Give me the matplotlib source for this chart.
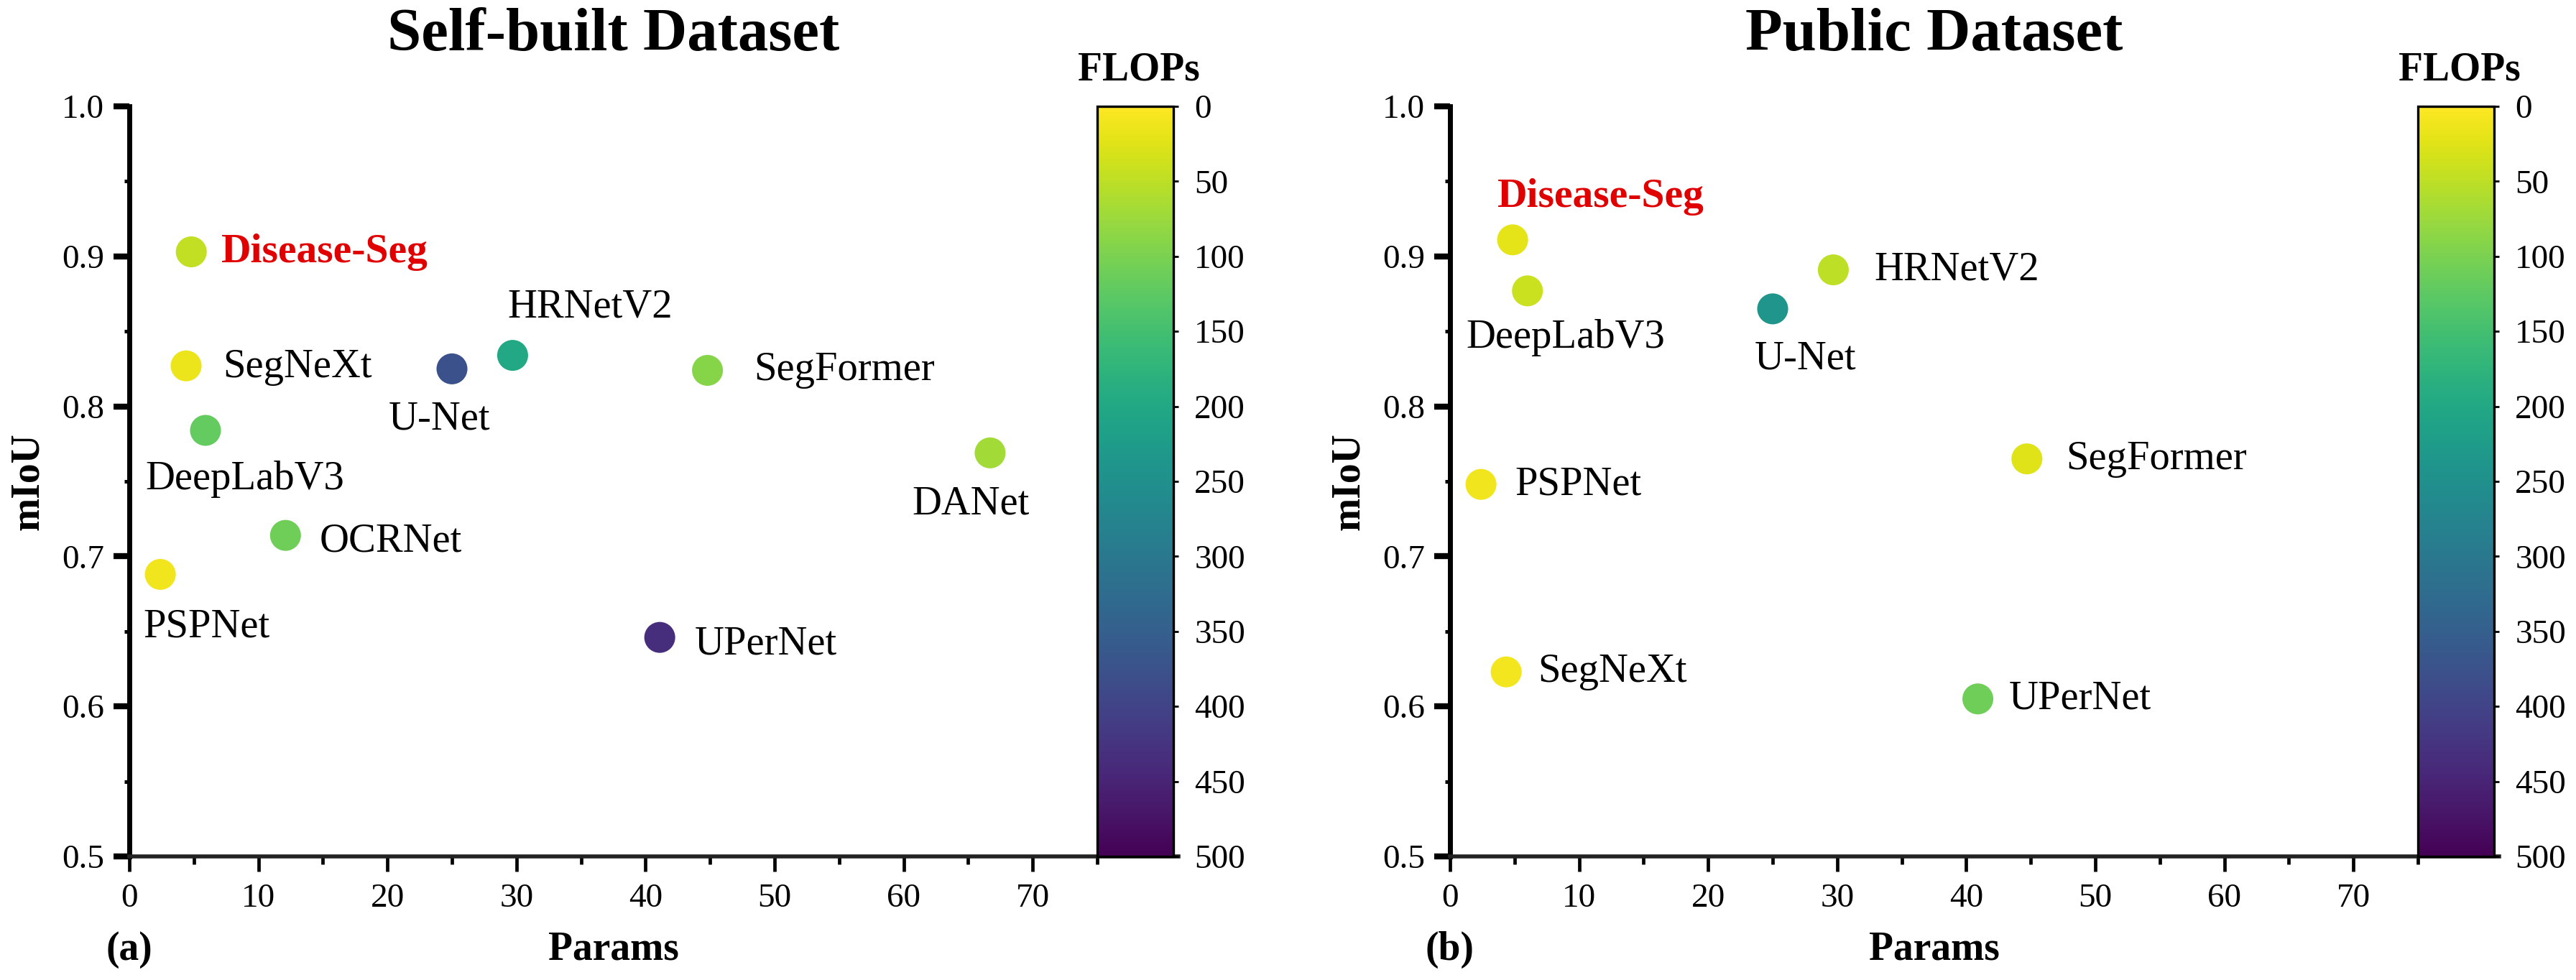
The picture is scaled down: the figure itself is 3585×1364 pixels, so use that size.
import matplotlib
matplotlib.use('Agg')
import matplotlib.pyplot as plt
from matplotlib.ticker import MultipleLocator

plt.rcParams['font.family'] = ['Liberation Serif', 'DejaVu Serif']

# (a) self-built dataset
models_a = ['Disease-Seg', 'SegNeXt', 'U-Net', 'HRNetV2', 'SegFormer',
            'DeepLabV3', 'DANet', 'OCRNet', 'PSPNet', 'UPerNet']
params_a = [4.8, 4.4, 25.0, 29.7, 44.8, 5.9, 66.7, 12.1, 2.4, 41.1]
miou_a = [0.903, 0.827, 0.825, 0.834, 0.824, 0.784, 0.769, 0.714, 0.688, 0.646]
flops_a = [45, 15, 375, 200, 90, 120, 70, 110, 10, 435]

# (b) public dataset
models_b = ['Disease-Seg', 'DeepLabV3', 'U-Net', 'HRNetV2', 'SegFormer',
            'PSPNet', 'SegNeXt', 'UPerNet']
params_b = [4.85, 6.0, 25.0, 29.7, 44.7, 2.4, 4.35, 40.9]
miou_b = [0.911, 0.877, 0.865, 0.891, 0.765, 0.748, 0.623, 0.605]
flops_b = [20, 40, 240, 50, 25, 10, 8, 110]

flops_ticks = list(range(0, 501, 50))

# label placement (pixel offsets from the dot, ha)
place_a = {
    'Disease-Seg': (42, 0, 'left'), 'SegNeXt': (51, -2, 'left'),
    'U-Net': (-17, -70, 'center'), 'HRNetV2': (108, 67, 'center'),
    'SegFormer': (65, 0, 'left'), 'DeepLabV3': (55, -68, 'center'),
    'DANet': (-27, -71, 'center'), 'OCRNet': (47, -8, 'left'),
    'PSPNet': (64, -73, 'center'), 'UPerNet': (49, -9, 'left'),
}
place_b = {
    'Disease-Seg': (123, 60, 'center'), 'DeepLabV3': (53, -65, 'center'),
    'U-Net': (46, -70, 'center'), 'HRNetV2': (57, 0, 'left'),
    'SegFormer': (54, 0, 'left'), 'PSPNet': (47, 0, 'left'),
    'SegNeXt': (44, 0, 'left'), 'UPerNet': (43, 0, 'left'),
}

W, H = 3585, 1364
fig = plt.figure(figsize=(W / 200, H / 200), dpi=200)


def panel(left_px, title, tag, models, params, miou, flops, place):
    ax = fig.add_axes([left_px / W, 1 - 1192 / H, 1347 / W, 1044 / H])
    cax = fig.add_axes([(left_px + 1347) / W, 1 - 1192 / H, 106 / W, 1044 / H])

    sc = ax.scatter(params, miou, c=flops, cmap='viridis_r', vmin=0, vmax=500,
                    s=240, linewidths=0, zorder=3)
    for name, x, y in zip(models, params, miou):
        dx, dy, ha = place[name]
        if name == 'Disease-Seg':
            ax.annotate(name, (x, y), xytext=(dx, dy), textcoords='offset pixels',
                        ha=ha, va='center', fontsize=20.7, fontweight='bold',
                        color='#e00000')
        else:
            ax.annotate(name, (x, y), xytext=(dx, dy), textcoords='offset pixels',
                        ha=ha, va='center', fontsize=20.4, color='black')

    ax.set_xlim(0, 75)
    ax.set_ylim(0.5, 1.0)
    ax.xaxis.set_major_locator(MultipleLocator(10))
    ax.xaxis.set_minor_locator(MultipleLocator(5))
    ax.yaxis.set_major_locator(MultipleLocator(0.1))
    ax.yaxis.set_minor_locator(MultipleLocator(0.05))
    ax.yaxis.set_major_formatter(plt.FuncFormatter(lambda v, p: f'{v:.1f}'))

    ax.spines['top'].set_visible(False)
    ax.spines['right'].set_visible(False)
    ax.spines['left'].set_linewidth(2.5)
    ax.spines['bottom'].set_linewidth(2.0)
    ax.spines['bottom'].set_color('#222222')
    ax.spines['bottom'].set_bounds(0, 75 + 113 / 17.96)

    ax.tick_params(axis='y', which='major', length=8, width=3, labelsize=17, pad=4.5)
    ax.tick_params(axis='y', which='minor', length=2.5, width=1.8)
    ax.tick_params(axis='x', which='major', length=7.5, width=1.7, labelsize=17, pad=6)
    ax.tick_params(axis='x', which='minor', length=4, width=1.7)

    ax.set_xlabel('Params', fontsize=20, fontweight='bold', va='center')
    ax.xaxis.set_label_coords(0.5, -130 / 1044)
    ax.set_ylabel('mIoU', fontsize=20, fontweight='bold', va='center')
    ax.yaxis.set_label_coords(-0.105, 0.5)
    ax.text(0, -130 / 1044, tag, transform=ax.transAxes, ha='center', va='center',
            fontsize=20, fontweight='bold')
    ax.text(0.5, 1.075, title, transform=ax.transAxes, ha='center', va='baseline',
            fontsize=30.5, fontweight='bold')

    cb = fig.colorbar(sc, cax=cax)
    cb.set_ticks(flops_ticks)
    cax.invert_yaxis()
    cb.outline.set_linewidth(1.2)
    cax.tick_params(length=2.5, width=1, labelsize=17, pad=8)
    cax.text(0.55, 1.0345, 'FLOPs', transform=cax.transAxes, ha='center',
             va='baseline', fontsize=20, fontweight='bold')


panel(180, 'Self-built Dataset', '(a)', models_a, params_a, miou_a, flops_a, place_a)
panel(2018, 'Public Dataset', '(b)', models_b, params_b, miou_b, flops_b, place_b)

fig.savefig('out.png', dpi=200, facecolor='white')
